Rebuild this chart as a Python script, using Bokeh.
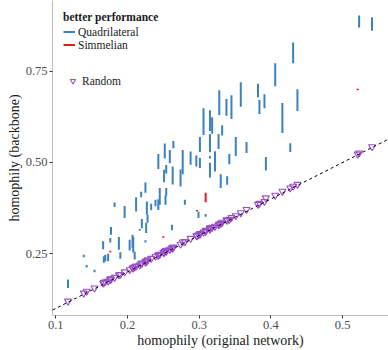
from bokeh.plotting import figure
from bokeh.models import ColumnDataSource, Legend, LegendItem, Slope, FixedTicker, PrintfTickFormatter, Range1d
from bokeh.embed import file_html
from bokeh.resources import INLINE

# homophily of the original network
orig = [0.523, 0.541, 0.431, 0.406, 0.358, 0.382, 0.384, 0.391, 0.437, 0.416,
        0.328, 0.338, 0.345, 0.306, 0.315, 0.318, 0.332, 0.327, 0.315, 0.351,
        0.366, 0.427, 0.322, 0.342, 0.315, 0.315, 0.393, 0.330, 0.339, 0.301,
        0.301, 0.296, 0.288, 0.277, 0.274, 0.264, 0.252, 0.243, 0.259, 0.254,
        0.251, 0.263, 0.245, 0.254, 0.253, 0.239, 0.243, 0.233, 0.280, 0.225,
        0.219, 0.212, 0.182, 0.196, 0.227, 0.228, 0.226, 0.220, 0.217, 0.225,
        0.207, 0.208, 0.210, 0.203, 0.188, 0.177, 0.176, 0.166, 0.169, 0.173,
        0.167, 0.190, 0.139, 0.143, 0.154, 0.117, 0.262, 0.299, 0.309,
        0.309, 0.297, 0.250, 0.176, 0.521]
# homophily of the quadrilateral backbone
quad = [0.903, 0.898, 0.829, 0.772, 0.720, 0.716, 0.671, 0.687, 0.701, 0.663,
        0.698, 0.674, 0.684, 0.649, 0.643, 0.624, 0.602, 0.578, 0.578, 0.570,
        0.556, 0.553, 0.531, 0.523, 0.518, 0.499, 0.515, 0.468, 0.462, 0.570,
        0.512, 0.519, 0.530, 0.534, 0.481, 0.559, 0.552, 0.523, 0.534, 0.493,
        0.480, 0.489, 0.430, 0.430, 0.410, 0.398, 0.399, 0.387, 0.398, 0.445,
        0.420, 0.405, 0.390, 0.381, 0.393, 0.357, 0.335, 0.345, 0.318, 0.287,
        0.302, 0.296, 0.255, 0.288, 0.296, 0.323, 0.293, 0.284, 0.247, 0.250,
        0.243, 0.254, 0.247, 0.219, 0.206, 0.179, 0.329, 0.365, 0.359,
        0.391, 0.366, 0.294, 0.254, 0.698]
# homophily of the Simmelian backbone
simm = [0.870, 0.861, 0.772, 0.709, 0.653, 0.679, 0.633, 0.649, 0.641, 0.581,
        0.630, 0.628, 0.619, 0.575, 0.586, 0.579, 0.574, 0.537, 0.528, 0.518,
        0.526, 0.529, 0.475, 0.495, 0.511, 0.459, 0.478, 0.430, 0.439, 0.529,
        0.485, 0.489, 0.494, 0.468, 0.434, 0.539, 0.511, 0.482, 0.498, 0.470,
        0.446, 0.440, 0.384, 0.409, 0.384, 0.380, 0.370, 0.369, 0.384, 0.417,
        0.405, 0.366, 0.378, 0.348, 0.357, 0.335, 0.307, 0.320, 0.313, 0.281,
        0.266, 0.253, 0.234, 0.259, 0.261, 0.302, 0.281, 0.262, 0.229, 0.229,
        0.225, 0.236, 0.240, 0.212, 0.199, 0.156, 0.314, 0.348, 0.351,
        0.417, 0.370, 0.298, 0.258, 0.702]
# homophily of the random backbone
rand = [0.526, 0.543, 0.435, 0.410, 0.362, 0.385, 0.388, 0.393, 0.440, 0.421,
        0.331, 0.343, 0.349, 0.309, 0.318, 0.322, 0.336, 0.329, 0.320, 0.354,
        0.371, 0.430, 0.325, 0.344, 0.317, 0.321, 0.403, 0.333, 0.341, 0.305,
        0.303, 0.300, 0.292, 0.282, 0.276, 0.268, 0.256, 0.247, 0.262, 0.259,
        0.253, 0.265, 0.248, 0.256, 0.258, 0.243, 0.245, 0.237, 0.283, 0.229,
        0.222, 0.216, 0.185, 0.200, 0.230, 0.233, 0.228, 0.224, 0.219, 0.227,
        0.211, 0.210, 0.214, 0.206, 0.192, 0.180, 0.179, 0.169, 0.173, 0.175,
        0.171, 0.193, 0.142, 0.147, 0.156, 0.120, 0.266, 0.302, 0.311,
        0.314, 0.299, 0.254, 0.181, 0.523]

x_ticks = [0.1, 0.2, 0.3, 0.4, 0.5]
y_ticks = [0.25, 0.50, 0.75]

BLUE = "#3D80BE"
RED = "#E41A1C"
PURPLE = "#9A4FC9"
FONT = "Liberation Serif"

qx, qlo, qhi, sx, slo, shi = [], [], [], [], [], []
for o, q, s in zip(orig, quad, simm):
    if q >= s:
        qx.append(o); qlo.append(s); qhi.append(q)
    else:
        sx.append(o); slo.append(q); shi.append(s)

p = figure(width=388, height=350,
           x_range=Range1d(0.0954, 0.564), y_range=Range1d(0.0806, 0.944),
           output_backend="svg", toolbar_location=None,
           min_border_left=52, min_border_right=0, min_border_top=0, min_border_bottom=34)
p.outline_line_color = None
p.xgrid.visible = False
p.ygrid.visible = False
p.background_fill_color = "white"

p.add_layout(Slope(gradient=1, y_intercept=0, line_color="black", line_dash="3 3", line_width=1))

rq = p.segment(x0="x", y0="lo", x1="x", y1="hi", line_color=BLUE, line_width=2,
               source=ColumnDataSource(dict(x=qx, lo=qlo, hi=qhi)))
rs = p.segment(x0="x", y0="lo", x1="x", y1="hi", line_color=RED, line_width=2,
               source=ColumnDataSource(dict(x=sx, lo=slo, hi=shi)))
rr = p.scatter(x="x", y="y", marker="inverted_triangle", size=7, fill_color=None,
               line_color=PURPLE, line_width=1.1,
               source=ColumnDataSource(dict(x=orig, y=rand)))

for ax in (p.xaxis[0], p.yaxis[0]):
    ax.axis_line_color = "#bdbdbd"
    ax.major_tick_line_color = "#333333"
    ax.major_tick_out = 3
    ax.major_tick_in = 0
    ax.minor_tick_line_color = None
    ax.major_label_text_font = FONT
    ax.major_label_text_font_size = "12.5px"
    ax.major_label_text_color = "#4d4d4d"
    ax.axis_label_text_font = FONT
    ax.axis_label_text_font_size = "14px"
    ax.axis_label_text_font_style = "normal"
    ax.axis_label_text_color = "#1a1a1a"
    ax.major_label_standoff = 2
    ax.axis_label_standoff = 1

p.xaxis.ticker = FixedTicker(ticks=x_ticks)
p.yaxis.ticker = FixedTicker(ticks=y_ticks)
p.xaxis.formatter = PrintfTickFormatter(format="%.1f")
p.yaxis.formatter = PrintfTickFormatter(format="%.2f")
p.xaxis.axis_label = "homophily (original network)"
p.yaxis.axis_label = "homophily (backbone)"

leg1 = Legend(items=[LegendItem(label="Quadrilateral", renderers=[rq]),
                     LegendItem(label="Simmelian", renderers=[rs])],
              title="better performance", location=(11, 264),
              padding=0, margin=0, spacing=0, glyph_width=12, glyph_height=13,
              label_standoff=3, label_height=13, title_standoff=2,
              border_line_color=None, background_fill_alpha=0,
              label_text_font=FONT, label_text_font_size="11.5px", label_text_color="#1a1a1a",
              title_text_font=FONT, title_text_font_size="11.5px", title_text_font_style="bold",
              title_text_color="#1a1a1a")
leg2 = Legend(items=[LegendItem(label="Random", renderers=[rr])],
              location=(11, 228),
              padding=0, margin=0, spacing=0, glyph_width=19, glyph_height=13,
              label_standoff=0, label_height=13,
              border_line_color=None, background_fill_alpha=0,
              label_text_font=FONT, label_text_font_size="11.5px", label_text_color="#1a1a1a")
p.add_layout(leg1)
p.add_layout(leg2)

open("out.html", "w").write(file_html(p, INLINE))
